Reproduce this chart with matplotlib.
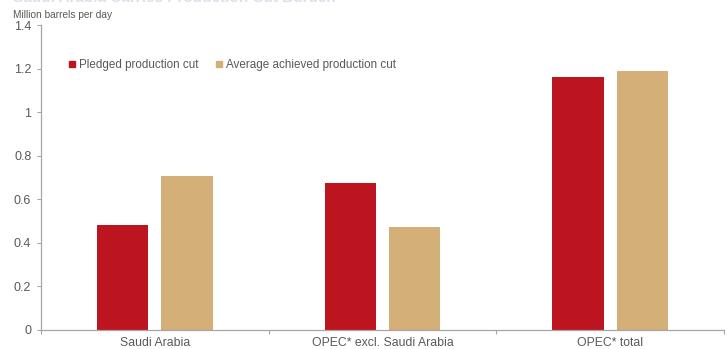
import matplotlib.pyplot as plt
import numpy as np
from matplotlib.lines import Line2D

plt.rcParams["font.family"] = ["Liberation Sans", "DejaVu Sans"]

categories = ["Saudi Arabia", "OPEC* excl. Saudi Arabia", "OPEC* total"]
pledged = [0.484, 0.673, 1.163]
achieved = [0.708, 0.475, 1.190]
series_names = ["Pledged production cut", "Average achieved production cut"]

RED = "#BC1520"
TAN = "#D4AF78"
TEXT = "#595959"
AXIS = "#A6A6A6"

fig = plt.figure(figsize=(7.27, 3.49), dpi=100)
ax = fig.add_axes([41 / 727, 19 / 349, 683 / 727, 305 / 349])

x = np.arange(len(categories))
w = 0.225
off = 0.141
ax.bar(x - off, pledged, width=w, color=RED, zorder=2)
ax.bar(x + off, achieved, width=w, color=TAN, zorder=2)

ax.set_xlim(-0.5, 2.5)
ax.set_ylim(0, 1.4)
ax.set_yticks(np.arange(0, 1.41, 0.2))
ax.set_yticklabels(["0", "0.2", "0.4", "0.6", "0.8", "1", "1.2", "1.4"])

ax.set_xticks([-0.5, 0.5, 1.5, 2.5])
ax.set_xticklabels([])
ax.set_xticks(x, minor=True)
ax.set_xticklabels(categories, minor=True)
ax.tick_params(axis="x", which="minor", length=0, pad=5, labelsize=8.8, labelcolor=TEXT)
ax.tick_params(axis="x", which="major", length=3, color=AXIS, width=0.8)
ax.tick_params(axis="y", length=3, color=AXIS, width=0.8, labelsize=9, labelcolor=TEXT, pad=4)

for s in ["top", "right"]:
    ax.spines[s].set_visible(False)
for s in ["left", "bottom"]:
    ax.spines[s].set_color(AXIS)
    ax.spines[s].set_linewidth(0.9)

handles = [
    Line2D([], [], marker="s", linestyle="none", markersize=5, color=RED),
    Line2D([], [], marker="s", linestyle="none", markersize=5, color=TAN),
]
leg = ax.legend(handles, series_names, loc="upper left", bbox_to_anchor=(0.033, 0.905),
                ncol=2, frameon=False, fontsize=8.4, handlelength=0.6, handletextpad=0.3,
                columnspacing=1.5, borderaxespad=0)
for t in leg.get_texts():
    t.set_color(TEXT)

fig.text(13 / 727, 1 - 15 / 349, "Million barrels per day", fontsize=7.3, color=TEXT,
         ha="left", va="center")
fig.text(13 / 727, 1 + 2 / 349, "Saudi Arabia Carries Production Cut Burden", fontsize=11,
         color="#D9E1EA", ha="left", va="center", fontweight="bold")

fig.savefig("out.png", dpi=100, facecolor="white")
